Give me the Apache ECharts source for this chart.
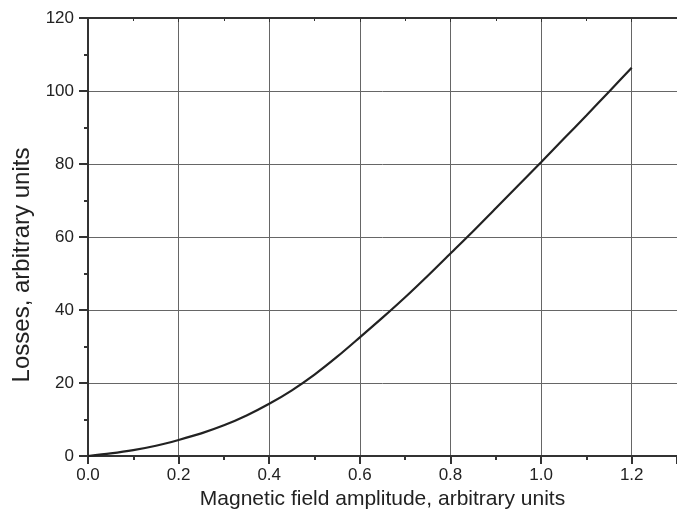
<!DOCTYPE html>
<html>
<head>
<meta charset="utf-8">
<script src="https://cdn.jsdelivr.net/npm/echarts@6/dist/echarts.min.js"></script>
<style>
  html, body { margin: 0; padding: 0; background: #fff; }
  #chart { width: 677px; height: 526px; }
</style>
</head>
<body>
<div id="chart"></div>
<script>
// curve
const fieldAmp = [0, 0.05, 0.1, 0.15, 0.2, 0.25, 0.3, 0.35, 0.4, 0.45, 0.5, 0.55, 0.6,
                  0.65, 0.7, 0.75, 0.8, 0.85, 0.9, 0.95, 1.0, 1.05, 1.1, 1.15, 1.2];
const losses = [0, 0.7, 1.6, 2.8, 4.4, 6.2, 8.4, 11.1, 14.3, 18.0, 22.3, 27.2, 32.5,
                37.9, 43.5, 49.4, 55.5, 61.6, 67.9, 74.2, 80.5, 86.9, 93.3, 99.8, 106.4];

const xTitle = 'Magnetic field amplitude, arbitrary units';
const yTitle = 'Losses, arbitrary units';

const font = 'Liberation Sans, Arial, sans-serif';
const axisCol = '#333';
const gridCol = '#666';

const points = fieldAmp.map((x, i) => [x, losses[i]]);

const chart = echarts.init(document.getElementById('chart'));

const option = {
    animation: false,
    backgroundColor: '#fff',
    grid: { left: 88, top: 18, bottom: 70, right: -6 },
    xAxis: [
        {
            type: 'value',
            min: 0, max: 1.3, interval: 0.2,
            name: xTitle,
            nameLocation: 'middle',
            nameGap: 29,
            nameTextStyle: { fontFamily: font, fontSize: 21, color: '#222' },
            axisLine: { onZero: false, lineStyle: { color: axisCol, width: 2 } },
            axisTick: { inside: false, length: 8, lineStyle: { color: axisCol, width: 2 } },
            minorTick: { show: true, splitNumber: 2, length: 4, lineStyle: { color: axisCol, width: 2 } },
            axisLabel: {
                fontFamily: font, fontSize: 17, color: '#222', margin: 11,
                showMaxLabel: false,
                formatter: v => v.toFixed(1)
            },
            splitLine: { show: true, lineStyle: { color: gridCol, width: 1 } }
        },
        {
            type: 'value',
            position: 'top',
            min: 0, max: 1.3, interval: 0.2,
            axisLine: { show: true, onZero: false, lineStyle: { color: axisCol, width: 2 } },
            axisTick: { show: true, inside: true, length: 4, lineStyle: { color: axisCol, width: 1 } },
            minorTick: { show: true, splitNumber: 2, length: 3, lineStyle: { color: axisCol, width: 1 } },
            axisLabel: { show: false },
            splitLine: { show: false }
        }
    ],
    yAxis: {
        type: 'value',
        min: 0, max: 120, interval: 20,
        name: yTitle,
        nameLocation: 'middle',
        nameGap: 54,
        nameRotate: 90,
        nameTextStyle: { fontFamily: font, fontSize: 24, color: '#222', padding: [0, 56, 0, 0] },
        axisLine: { show: true, onZero: false, lineStyle: { color: axisCol, width: 2 } },
        axisTick: { show: true, inside: false, length: 9, lineStyle: { color: axisCol, width: 2 } },
        minorTick: { show: true, splitNumber: 2, length: 4, lineStyle: { color: axisCol, width: 2 } },
        axisLabel: { fontFamily: font, fontSize: 17, color: '#222', margin: 14 },
        splitLine: { show: true, lineStyle: { color: gridCol, width: 1 } }
    },
    series: [
        {
            type: 'line',
            xAxisIndex: 0,
            data: points,
            smooth: 0.3,
            showSymbol: false,
            lineStyle: { color: '#222', width: 2.2 }
        }
    ]
};

chart.setOption(option);
</script>
</body>
</html>
